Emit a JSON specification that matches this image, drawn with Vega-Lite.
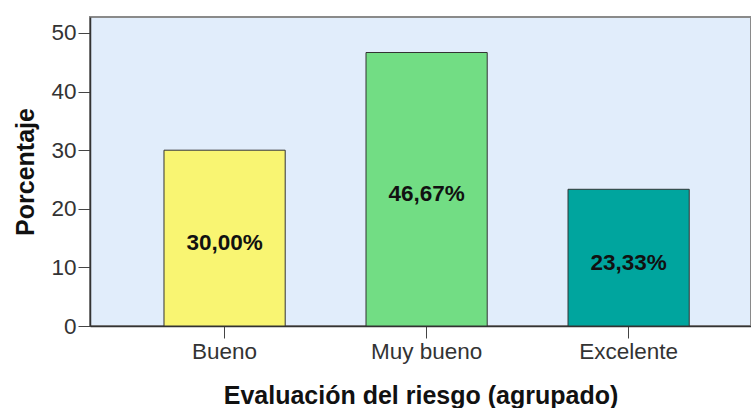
{
  "$schema": "https://vega.github.io/schema/vega-lite/v6.json",
  "width": 661,
  "height": 309,
  "autosize": {"type": "none"},
  "padding": {"left": 90, "top": 17, "right": 0, "bottom": 82},
  "background": "white",
  "config": {
    "view": {"fill": "#e1edfb", "stroke": "#8a8a8a", "strokeWidth": 2},
    "font": "Liberation Sans"
  },
  "data": {
    "values": [
      {"categoria": "Bueno", "porcentaje": 30.0, "etiqueta": "30,00%"},
      {"categoria": "Muy bueno", "porcentaje": 46.67, "etiqueta": "46,67%"},
      {"categoria": "Excelente", "porcentaje": 23.33, "etiqueta": "23,33%"}
    ]
  },
  "encoding": {
    "x": {
      "field": "categoria",
      "type": "nominal",
      "sort": ["Bueno", "Muy bueno", "Excelente"],
      "scale": {"paddingInner": 0.4, "paddingOuter": 0.336, "align": 0.545},
      "axis": {
        "title": "Evaluación del riesgo (agrupado)",
        "titleFont": "Liberation Sans",
        "titleFontSize": 25,
        "titleFontWeight": "bold",
        "titleColor": "#111",
        "titleBaseline": "alphabetic",
        "titleY": 77,
        "labelAngle": 0,
        "labelFontSize": 22.5,
        "labelColor": "#333",
        "labelPadding": 2,
        "tickSize": 12,
        "tickColor": "#444",
        "domainColor": "#333",
        "domainWidth": 1.5,
        "grid": false
      }
    }
  },
  "layer": [
    {
      "mark": {"type": "bar", "stroke": "#333", "strokeWidth": 1},
      "encoding": {
        "y": {
          "field": "porcentaje",
          "type": "quantitative",
          "scale": {"domain": [0, 52.73], "nice": false},
          "axis": {
            "title": "Porcentaje",
            "titleFontSize": 25,
            "titleFontWeight": "bold",
            "titleColor": "#111",
            "titleBaseline": "alphabetic",
            "titleX": -57,
            "values": [0, 10, 20, 30, 40, 50],
            "labelFontSize": 22.5,
            "labelColor": "#333",
            "labelPadding": 2,
            "tickSize": 12,
            "tickColor": "#444",
            "domainColor": "#333",
            "domainWidth": 1.5,
            "grid": false
          }
        },
        "color": {
          "field": "categoria",
          "type": "nominal",
          "scale": {"domain": ["Bueno", "Muy bueno", "Excelente"], "range": ["#f9f572", "#72dd84", "#00a59e"]},
          "legend": null
        }
      }
    },
    {
      "transform": [{"calculate": "datum.porcentaje / 2", "as": "medio"}],
      "mark": {"type": "text", "fontSize": 22.5, "fontWeight": "bold", "color": "#111", "baseline": "middle", "dy": 5},
      "encoding": {
        "y": {"field": "medio", "type": "quantitative"},
        "text": {"field": "etiqueta"}
      }
    }
  ]
}
